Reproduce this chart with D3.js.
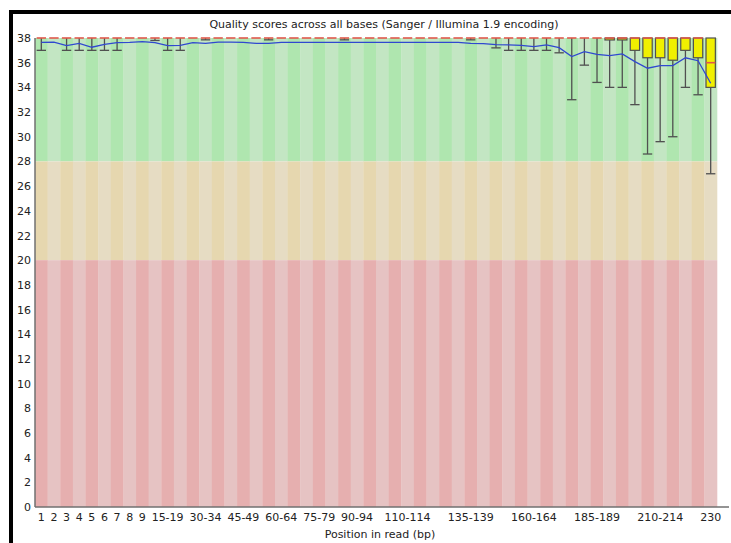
<!DOCTYPE html>
<html>
<head>
<meta charset="utf-8">
<script src="https://cdn.jsdelivr.net/npm/d3@7/dist/d3.min.js"></script>
<style>
  html, body { margin: 0; padding: 0; background: #ffffff; }
  svg { display: block; font-family: "DejaVu Sans", sans-serif; }
</style>
</head>
<body>
<svg id="chart" width="731" height="543"></svg>
<script>
// Base positions (single bases, then 5-bp groups)
const positions = ["1","2","3","4","5","6","7","8","9","10-14","15-19","20-24","25-29","30-34",
  "35-39","40-44","45-49","50-54","55-59","60-64","65-69","70-74","75-79","80-84","85-89",
  "90-94","95-99","100-104","105-109","110-114","115-119","120-124","125-129","130-134",
  "135-139","140-144","145-149","150-154","155-159","160-164","165-169","170-174","175-179",
  "180-184","185-189","190-194","195-199","200-204","205-209","210-214","215-219","220-224",
  "225-229","230"];

// Mean quality per position
const meanQ = [37.65,37.66,37.38,37.57,37.25,37.49,37.62,37.64,37.70,37.62,37.38,37.40,37.62,37.57,
  37.66,37.66,37.65,37.57,37.57,37.65,37.65,37.65,37.65,37.65,37.64,37.65,37.65,37.65,37.65,
  37.65,37.65,37.65,37.65,37.64,37.56,37.55,37.47,37.44,37.41,37.30,37.44,37.22,36.50,36.90,
  36.68,36.57,36.71,36.09,35.55,35.76,35.76,36.40,36.16,34.33];

// Median quality per position
const medianQ = [38,38,38,38,38,38,38,38,38,38,38,38,38,38,38,38,38,38,38,38,38,38,38,38,38,38,38,
  38,38,38,38,38,38,38,38,38,38,38,38,38,38,38,38,38,38,38,38,38,38,38,38,38,38,36];

// Lower / upper quartiles
const lowerQuartile = [38,38,38,38,38,38,38,38,38,38,38,38,38,38,38,38,38,38,38,38,38,38,38,38,38,
  38,38,38,38,38,38,38,38,38,38,38,38,38,38,38,38,38,38,38,38,37.84,37.84,37.0,36.4,36.4,36.2,
  37.0,36.4,34.0];
const upperQuartile = [38,38,38,38,38,38,38,38,38,38,38,38,38,38,38,38,38,38,38,38,38,38,38,38,38,
  38,38,38,38,38,38,38,38,38,38,38,38,38,38,38,38,38,38,38,38,38,38,38,38,38,38,38,38,38];

// 10th / 90th percentiles
const percentile10 = [37,38,37,37,37,37,37,38,38,37.8,37,37,38,37.85,38,38,38,38,37.85,38,38,38,38,
  38,37.85,38,38,38,38,38,38,38,38,38,37.85,38,37.2,37,37,37,37,36.8,33,35.8,34.4,34,34,32.6,
  28.6,29.6,30,34,33.4,27];
const percentile90 = [38,38,38,38,38,38,38,38,38,38,38,38,38,38,38,38,38,38,38,38,38,38,38,38,38,
  38,38,38,38,38,38,38,38,38,38,38,38,38,38,38,38,38,38,38,38,38,38,38,38,38,38,38,38,38];

// Axis ticks
const yTicks = [0,2,4,6,8,10,12,14,16,18,20,22,24,26,28,30,32,34,36,38];
const xTickLabels = ["1","2","3","4","5","6","7","8","9","15-19","30-34","45-49","60-64","75-79",
  "90-94","110-114","135-139","160-164","185-189","210-214","230"];

// Quality bands: [from, to, dark stripe, light stripe]
const bandLimits = [[28, 38], [20, 28], [0, 20]];
const bandDark = ["#afe6af", "#e6d7af", "#e6afaf"];
const bandLight = ["#c3e6c3", "#e6dcc3", "#e6c3c3"];

const svg = d3.select("#chart");
const plotLeft = 35, plotRight = 717, plotTop = 38, plotBottom = 507;

const x = d3.scaleBand().domain(positions).range([plotLeft, plotRight]).padding(0);
const y = d3.scaleLinear().domain([0, 38]).range([plotBottom, plotTop]);
const bw = x.bandwidth();
const boxW = bw * 0.74;

// frame
svg.append("rect").attr("x", 9).attr("y", 10).attr("width", 4).attr("height", 533).attr("fill", "#000");
svg.append("rect").attr("x", 9).attr("y", 10).attr("width", 722).attr("height", 4).attr("fill", "#000");

// striped quality bands
const bg = svg.append("g");
bandLimits.forEach((lim, bi) => {
  bg.selectAll(null).data(positions).join("rect")
    .attr("x", d => x(d))
    .attr("y", y(lim[1]))
    .attr("width", bw + 0.3)
    .attr("height", y(lim[0]) - y(lim[1]))
    .attr("fill", (d, i) => i % 2 === 0 ? bandDark[bi] : bandLight[bi]);
});

const rows = positions.map((p, i) => ({
  p, mean: meanQ[i], med: medianQ[i], q1: lowerQuartile[i], q3: upperQuartile[i],
  lo: percentile10[i], hi: percentile90[i]
}));
const cx = d => x(d.p) + bw / 2;

// whiskers
const wk = svg.append("g").attr("stroke", "#505050").attr("stroke-width", 1.3);
rows.filter(d => d.lo < d.q1).forEach(d => {
  wk.append("line").attr("x1", cx(d)).attr("x2", cx(d)).attr("y1", y(d.q1)).attr("y2", y(d.lo));
  wk.append("line").attr("x1", cx(d) - boxW / 2).attr("x2", cx(d) + boxW / 2)
    .attr("y1", y(d.lo)).attr("y2", y(d.lo));
});
rows.filter(d => d.hi > d.q3).forEach(d => {
  wk.append("line").attr("x1", cx(d)).attr("x2", cx(d)).attr("y1", y(d.q3)).attr("y2", y(d.hi));
  wk.append("line").attr("x1", cx(d) - boxW / 2).attr("x2", cx(d) + boxW / 2)
    .attr("y1", y(d.hi)).attr("y2", y(d.hi));
});

// interquartile boxes
svg.append("g").selectAll("rect").data(rows.filter(d => d.q1 < d.q3)).join("rect")
  .attr("x", d => cx(d) - boxW / 2)
  .attr("y", d => y(d.q3))
  .attr("width", boxW)
  .attr("height", d => y(d.q1) - y(d.q3))
  .attr("fill", "#f0f000")
  .attr("stroke", "#505050")
  .attr("stroke-width", 1.2);

// medians
svg.append("g").selectAll("line").data(rows).join("line")
  .attr("x1", d => cx(d) - boxW / 2)
  .attr("x2", d => cx(d) + boxW / 2)
  .attr("y1", d => y(d.med))
  .attr("y2", d => y(d.med))
  .attr("stroke", "#e0584c")
  .attr("stroke-width", 1.6);

// mean line
svg.append("path").datum(rows)
  .attr("fill", "none")
  .attr("stroke", "#3048d0")
  .attr("stroke-width", 1.3)
  .attr("d", d3.line().x(cx).y(d => y(d.mean)));

// axes
const yAxis = svg.append("g").attr("transform", `translate(${plotLeft},0)`)
  .call(d3.axisLeft(y).tickValues(yTicks).tickSize(0).tickPadding(4).tickFormat(d3.format("d")));
yAxis.select(".domain").remove();
yAxis.selectAll("text").attr("font-size", 11).attr("fill", "#222").attr("font-family", "DejaVu Sans");

const xAxis = svg.append("g").attr("transform", `translate(0,${plotBottom})`)
  .call(d3.axisBottom(x).tickValues(xTickLabels).tickSize(0).tickPadding(6));
xAxis.select(".domain").remove();
xAxis.selectAll("text").attr("font-size", 11).attr("fill", "#222").attr("font-family", "DejaVu Sans");

svg.append("line").attr("x1", plotLeft).attr("x2", plotLeft).attr("y1", plotTop).attr("y2", plotBottom)
  .attr("stroke", "#707070").attr("stroke-width", 1.5);
svg.append("line").attr("x1", plotLeft).attr("x2", 729).attr("y1", plotBottom).attr("y2", plotBottom)
  .attr("stroke", "#707070").attr("stroke-width", 1.5);

// titles
svg.append("text").attr("x", 384).attr("y", 28).attr("text-anchor", "middle")
  .attr("font-size", 11).attr("fill", "#222")
  .text("Quality scores across all bases (Sanger / Illumina 1.9 encoding)");
svg.append("text").attr("x", 380).attr("y", 538).attr("text-anchor", "middle")
  .attr("font-size", 11).attr("fill", "#222")
  .text("Position in read (bp)");
</script>
</body>
</html>
